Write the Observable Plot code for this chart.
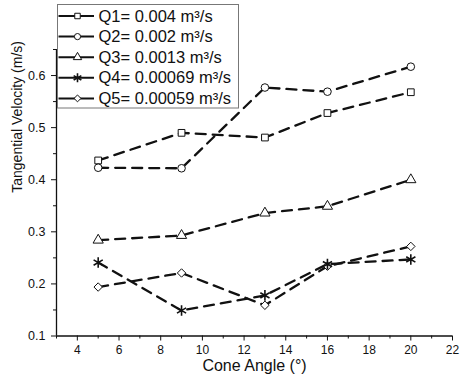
<!DOCTYPE html>
<html>
<head>
<meta charset="utf-8">
<script src="https://cdn.jsdelivr.net/npm/d3@7"></script>
<script src="https://cdn.jsdelivr.net/npm/@observablehq/plot@0.6"></script>
<style>
  html, body { margin: 0; padding: 0; background: #fff; }
  #chart svg { display: block; }
</style>
</head>
<body>
<div id="chart"></div>
<script>
// ---- data ----
const angles = [5, 9, 13, 16, 20];
const q1 = [0.437, 0.490, 0.481, 0.528, 0.568];
const q2 = [0.423, 0.422, 0.577, 0.569, 0.617];
const q3 = [0.284, 0.293, 0.336, 0.349, 0.400];
const q4 = [0.241, 0.149, 0.178, 0.238, 0.247];
const q5 = [0.194, 0.221, 0.159, 0.234, 0.272];
const seriesNames = ["Q1= 0.004 m³/s", "Q2= 0.002 m³/s", "Q3= 0.0013 m³/s", "Q4= 0.00069 m³/s", "Q5= 0.00059 m³/s"];
const seriesSymbols = ["square", "circle", "triangle", "asterisk", "diamond2"];
const xTicks = [4, 6, 8, 10, 12, 14, 16, 18, 20, 22];
const xMinor = [3, 5, 7, 9, 11, 13, 15, 17, 19, 21];
const yTicks = [0.1, 0.2, 0.3, 0.4, 0.5, 0.6];
const yMinor = [0.15, 0.25, 0.35, 0.45, 0.55, 0.65];
const xTitle = "Cone Angle (°)";
const yTitle = "Tangential Velocity (m/s)";

const allSeries = [q1, q2, q3, q4, q5];
const rows = [];
allSeries.forEach((vals, s) => vals.forEach((v, i) =>
  rows.push({series: seriesNames[s], symbol: seriesSymbols[s], angle: angles[i], v})));

const font = "'Liberation Sans', Arial, sans-serif";
const W = 460, H = 384;

const chart = Plot.plot({
  width: W, height: H,
  marginLeft: 56, marginRight: 8, marginTop: 49, marginBottom: 48.5,
  style: {fontFamily: font, fontSize: "12px", color: "#111", background: "#fff"},
  x: {domain: [3, 22]},
  y: {domain: [0.1, 0.65]},
  symbol: {domain: seriesNames, range: seriesSymbols},
  marks: [
    Plot.axisX({ticks: xTicks, tickSize: 5, tickPadding: 4.5, label: null, tickFormat: d => d, fontSize: 12}),
    Plot.axisX({ticks: xMinor, tickSize: 3, text: null, label: null}),
    Plot.axisY({ticks: yTicks, tickSize: 5, tickPadding: 6, label: null, tickFormat: d3.format(".1f"), fontSize: 12.5}),
    Plot.axisY({ticks: yMinor, tickSize: 3, text: null, label: null}),
    Plot.ruleY([0.1], {stroke: "#111", strokeWidth: 1.3}),
    Plot.ruleX([3], {y1: 0.1, y2: 0.65, stroke: "#111", strokeWidth: 1.3}),
    Plot.line(rows, {x: "angle", y: "v", z: "series", stroke: "#111", strokeWidth: 2.3, strokeDasharray: "10,7"}),
    Plot.dot(rows.filter(d => d.symbol !== "asterisk"), {x: "angle", y: "v", symbol: "series", r: 3.8, fill: "#fff", stroke: "#111", strokeWidth: 1}),
    Plot.dot(rows.filter(d => d.symbol === "asterisk"), {x: "angle", y: "v", symbol: "series", r: 5, fill: "#fff", stroke: "#111", strokeWidth: 1.6}),
    Plot.text([xTitle], {frameAnchor: "bottom", dy: 35, fontSize: 16, fill: "#111"}),
    Plot.text([yTitle], {frameAnchor: "left", dx: -39, rotate: -90, fontSize: 14, fill: "#111"})
  ]
});
document.getElementById("chart").appendChild(chart);

// ---- legend (inside the SVG, top-left) ----
const svg = d3.select(chart);
const lg = svg.append("g").attr("font-family", font).attr("text-anchor", "start");
lg.append("rect").attr("x", 57.5).attr("y", 4.5).attr("width", 181).attr("height", 103.5)
  .attr("fill", "#fff").attr("stroke", "#777").attr("stroke-width", 1);
const symGen = name => {
  const map = {square: d3.symbolSquare, circle: d3.symbolCircle, triangle: d3.symbolTriangle,
               asterisk: d3.symbolAsterisk, diamond2: d3.symbolDiamond2};
  const r = name === "asterisk" ? 4.2 : 3.1;
  return d3.symbol(map[name], Math.PI * r * r)();
};
seriesNames.forEach((name, i) => {
  const cy = 16 + i * 20.6;
  const row = lg.append("g");
  row.append("line").attr("x1", 58.5).attr("x2", 94).attr("y1", cy).attr("y2", cy)
    .attr("stroke", "#111").attr("stroke-width", 2);
  row.append("path").attr("d", symGen(seriesSymbols[i]))
    .attr("transform", `translate(77.5,${cy})`)
    .attr("fill", "#fff").attr("stroke", "#111")
    .attr("stroke-width", seriesSymbols[i] === "asterisk" ? 1.6 : 1);
  row.append("text").attr("x", 98.5).attr("y", cy + 5.5).attr("text-anchor", "start")
    .attr("font-size", 16.5).attr("fill", "#111").text(name);
});
</script>
</body>
</html>
